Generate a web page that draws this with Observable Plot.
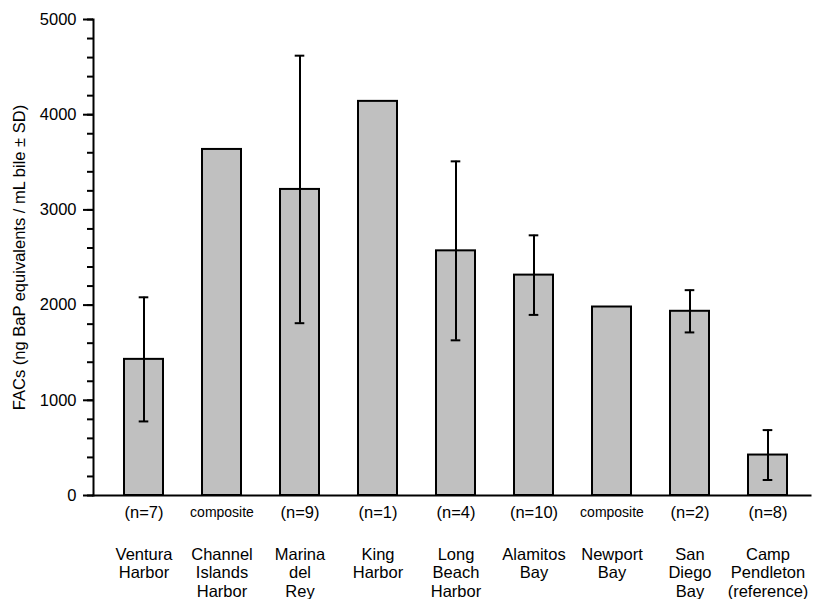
<!DOCTYPE html>
<html>
<head>
<meta charset="utf-8">
<script src="https://cdn.jsdelivr.net/npm/d3@7"></script>
<script src="https://cdn.jsdelivr.net/npm/@observablehq/plot@0.6"></script>
<style>
  html, body { margin: 0; padding: 0; background: #fff; }
  #chart { width: 815px; height: 599px; }
</style>
</head>
<body>
<div id="chart"></div>
<script>
const sites = ["Ventura\nHarbor", "Channel\nIslands\nHarbor", "Marina\ndel\nRey", "King\nHarbor", "Long\nBeach\nHarbor", "Alamitos\nBay", "Newport\nBay", "San\nDiego\nBay", "Camp\nPendleton\n(reference)"];
const means = [1430, 3635, 3215, 4140, 2570, 2315, 1980, 1935, 425];
const sds = [652, null, 1405, null, 940, 418, null, 222, 262];
const nLabels = ["(n=7)", "composite", "(n=9)", "(n=1)", "(n=4)", "(n=10)", "composite", "(n=2)", "(n=8)"];
const yLabel = "FACs (ng BaP equivalents / mL bile ± SD)";

const data = sites.map((s, i) => ({site: s, mean: means[i], sd: sds[i], n: nLabels[i]}));
const errs = data.filter(d => d.sd != null);

const font = "Liberation Sans, Arial, sans-serif";

const plot = Plot.plot({
  width: 815,
  height: 599,
  marginTop: 19,
  marginBottom: 104,
  marginLeft: 93,
  marginRight: 5,
  style: {fontFamily: font, fontSize: "16.5px", color: "#000", background: "#fff"},
  x: {domain: sites, range: [100, 810], paddingInner: 0.5, paddingOuter: 0.25, axis: null},
  y: {domain: [0, 5000], axis: null},
  marks: [
    Plot.axisY({ticks: d3.range(0, 5001, 200), tickSize: 6, tickFormat: () => "", strokeWidth: 2, label: null}),
    Plot.axisY({ticks: d3.range(0, 5001, 1000), tickSize: 10, tickPadding: 7, tickFormat: d => String(d), strokeWidth: 2, fontSize: 16.5, label: null}),
    Plot.barY(data, {x: "site", y: "mean", fill: "#c0c0c0", stroke: "#000", strokeWidth: 2}),
    Plot.ruleX(errs, {x: "site", y1: d => d.mean - d.sd, y2: d => d.mean + d.sd, stroke: "#000", strokeWidth: 2}),
    Plot.tickY(errs, {x: "site", y: d => d.mean + d.sd, stroke: "#000", strokeWidth: 2, insetLeft: 14.7, insetRight: 14.7}),
    Plot.tickY(errs, {x: "site", y: d => d.mean - d.sd, stroke: "#000", strokeWidth: 2, insetLeft: 14.7, insetRight: 14.7}),
    Plot.frame({anchor: "left", stroke: "#000", strokeWidth: 2}),
    Plot.frame({anchor: "bottom", stroke: "#000", strokeWidth: 2}),
    Plot.text(data, {x: "site", text: "n", frameAnchor: "bottom", dy: 17, lineAnchor: "middle", fontSize: d => d.n === "composite" ? 14 : 16.5, fill: "#000"}),
    Plot.text(data, {x: "site", text: "site", frameAnchor: "bottom", dy: 51, lineAnchor: "top", lineHeight: 1.12, fontSize: 16.5, fill: "#000"}),
    Plot.text([yLabel], {text: d => d, frameAnchor: "left", textAnchor: "middle", lineAnchor: "middle", dx: -73.5, rotate: -90, fontSize: 16.5, fill: "#000"})
  ]
});
document.getElementById("chart").appendChild(plot);
</script>
</body>
</html>
